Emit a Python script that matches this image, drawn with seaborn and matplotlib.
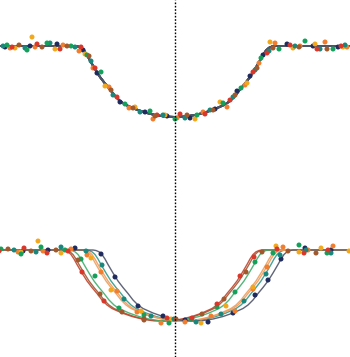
import numpy as np
import pandas as pd
import matplotlib
matplotlib.use("Agg")
import matplotlib.pyplot as plt
import seaborn as sns

# ---- data (x in minutes from mid-transit, dip in 1e-4 flux units) ----
series = ["navy", "orange", "gold", "teal", "green", "red", "brown"]
colors = {"navy": "#1f2b5c", "orange": "#f07e2e", "gold": "#f2a81c", "teal": "#1a877c",
          "green": "#14a05a", "red": "#d8372a", "brown": "#a0582c"}
line_colors = {"navy": "#4d5468", "orange": "#f29a5a", "gold": "#e8a060", "teal": "#2f9a8c",
               "green": "#3fae6c", "red": "#c0452e", "brown": "#9a5a36"}

# mid-transit shifts seen in the lower (unaligned) panel
mid_shift = {"navy": 18, "orange": 8, "gold": 6, "teal": 11, "green": -6, "red": -13, "brown": -11}

# model transit half-profile (distance from centre, depth)
tmpl_d = [0, 10, 20, 30, 40, 50, 55, 60, 65, 70, 75, 80, 85, 88, 91, 94, 97, 100, 120, 160, 200]
tmpl_dip = [71, 70.6, 69, 66.5, 63, 58.5, 55, 50, 43.5, 37.5, 31, 23, 14.5, 9, 4.5, 1.8, 0.5, 0, 0, 0, 0]

obs_x = {
    "navy":   [-170, -145, -118, -92, -78, -55, -30, -8, 15, 40, 62, 75, 88, 112, 138, 163],
    "orange": [-165, -140, -112, -96, -82, -66, -46, -22, 2, 28, 52, 70, 84, 100, 125, 150, 172],
    "gold":   [-160, -143, -120, -90, -70, -40, -10, 20, 45, 72, 95, 118, 140, 168],
    "teal":   [-172, -150, -125, -100, -84, -62, -35, -12, 10, 35, 58, 80, 94, 120, 145, 170],
    "green":  [-168, -148, -128, -104, -88, -74, -50, -25, 0, 22, 48, 66, 86, 104, 130, 158],
    "red":    [-163, -138, -115, -94, -80, -58, -18, 5, 30, 55, 78, 92, 115, 142, 166],
    "brown":  [-156, -133, -108, -86, -64, -42, -20, 12, 38, 60, 82, 98, 124, 152],
}
obs_dip = {
    "navy":   [1, 0, -2, 4, 27, 56, 66, 70, 72, 63, 45, 30, 9, -2, 0, 1],
    "orange": [2, 1, -1, 5, 22, 41, 62, 73, 72, 66, 61, 39, 17, -3, 0, -4, 1],
    "gold":   [2, -9, 3, 8, 40, 61, 69, 73, 56, 37, -4, 2, -2, 1],
    "teal":   [0, 2, -3, 1, 15, 49, 66, 69, 72, 64, 51, 24, 5, 0, 3, -1],
    "green":  [-1, 4, -3, 0, 9, 26, 58, 65, 73, 69, 57, 42, 12, 3, -5, 3],
    "red":    [1, -2, 3, 1, 22, 51, 69, 68, 68, 54, 26, 7, -1, 3, 0],
    "brown":  [-1, 1, 0, 10, 44, 62, 70, 69, 64, 49, 22, 2, 1, 3],
}

SCALE = 1e-4
LOWER_OFFSET = 204 * SCALE

rows_pts, rows_lines = [], []
full_d = [-d for d in tmpl_d[::-1]] + tmpl_d[1:]
full_dip = tmpl_dip[::-1] + tmpl_dip[1:]
for s in series:
    for x, dp in zip(obs_x[s], obs_dip[s]):
        f = 1 - dp * SCALE
        rows_pts.append({"t": x, "flux": f, "series": s, "panel": "top"})
        rows_pts.append({"t": x + mid_shift[s], "flux": f - LOWER_OFFSET, "series": s, "panel": "bottom"})
    for i, (x, dp) in enumerate(zip(full_d, full_dip)):
        f = 1 - dp * SCALE
        rows_lines.append({"t": x, "flux": f, "series": s, "panel": "top", "idx": i})
        rows_lines.append({"t": x + mid_shift[s], "flux": f - LOWER_OFFSET, "series": s, "panel": "bottom", "idx": i})

pts = pd.DataFrame(rows_pts)
lines = pd.DataFrame(rows_lines)

sns.set_style("white")
fig = plt.figure(figsize=(3.5, 3.57), dpi=100)
ax = fig.add_axes([0, 0, 1, 1])

draw_order = ["brown", "red", "green", "teal", "gold", "orange", "navy"]
for panel in ["top", "bottom"]:
    for s in draw_order:
        d = lines[(lines.panel == panel) & (lines.series == s)]
        sns.lineplot(data=d, x="t", y="flux", ax=ax, color=line_colors[s] if panel == "bottom" else "#4d5468",
                     lw=1.0 if panel == "bottom" else 1.4, sort=False, estimator=None, alpha=0.9, legend=False)
    d = pts[pts.panel == panel]
    sns.scatterplot(data=d, x="t", y="flux", hue="series", palette=colors, ax=ax, s=13,
                    linewidth=0, legend=False, zorder=3)

ax.axvline(0, color="black", lw=1, linestyle=(0, (1.2, 1.2)), zorder=4)
ax.set_xlim(-175, 175)
ax.set_ylim(1 - 311 * SCALE, 1 + 46 * SCALE)
ax.axis("off")
fig.savefig("out.png", dpi=100)
